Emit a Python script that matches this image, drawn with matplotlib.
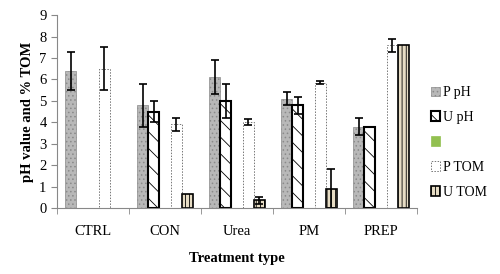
import matplotlib
matplotlib.use("Agg")
import matplotlib.pyplot as plt
import numpy as np

categories = ["CTRL", "CON", "Urea", "PM", "PREP"]
series_names = ["P pH", "U pH", "", "P TOM", "U TOM"]
nan = float("nan")
p_ph = [6.4, 4.8, 6.1, 5.1, 3.8]
p_ph_err = [0.9, 1.0, 0.8, 0.3, 0.4]
u_ph = [nan, 4.5, 5.0, 4.8, 3.8]
u_ph_err = [0.0, 0.5, 0.8, 0.4, 0.0]
green = [nan, nan, nan, nan, nan]
p_tom = [6.5, 3.9, 4.0, 5.85, 7.6]
p_tom_err = [1.0, 0.3, 0.15, 0.08, 0.3]
u_tom = [nan, 0.65, 0.35, 0.9, 7.6]
u_tom_err = [0.0, 0.0, 0.15, 0.9, 0.0]

plt.rcParams['font.family'] = ['Liberation Serif', 'DejaVu Serif']
plt.rcParams['hatch.linewidth'] = 0.6

fig = plt.figure(figsize=(5.0, 2.74), dpi=100)
ax = fig.add_axes([0.114, 0.241, 0.72, 0.704])

x = np.arange(len(categories))
w = 0.153
offs = [-2, -1, 0, 1, 2]

styles = [
    dict(color="#b8b8b8", edgecolor="#8a8a8a", hatch="....", linewidth=0.5),
    dict(color="white", edgecolor="black", hatch="\\\\", linewidth=1.5),
    dict(color="#92c050", edgecolor="#92c050", linewidth=0.5),
    dict(color="white", edgecolor="#777777", linestyle=(0, (1.5, 1.5)), linewidth=0.7),
    dict(color="#e6dcc4", edgecolor="black", hatch="||||", linewidth=1.2),
]
vals = [p_ph, u_ph, green, p_tom, u_tom]
errs = [p_ph_err, u_ph_err, None, p_tom_err, u_tom_err]

handles = []
for i in range(5):
    b = ax.bar(x + offs[i] * w, vals[i], w, label=series_names[i], **styles[i])
    handles.append(b)
    if errs[i] is not None:
        e = np.array(errs[i])
        mask = e > 0
        ax.errorbar((x + offs[i] * w)[mask], np.array(vals[i])[mask], yerr=e[mask],
                    fmt="none", ecolor="black", elinewidth=1.2, capsize=3, capthick=1.2)

ax.set_xlim(-0.5, len(categories) - 0.5)
ax.set_ylim(0, 9)
ax.set_yticks(range(0, 10))
ax.set_xticks(x)
ax.set_xticklabels(categories, fontsize=10.5)
ax.tick_params(axis="x", length=0, pad=12)
ax.set_xticks(np.arange(-0.5, len(categories)), minor=True)
ax.tick_params(axis="x", which="minor", length=4, color="#888888", direction="out")
ax.tick_params(axis="y", length=4, color="#888888", direction="out", labelsize=10.5)
for s in ["top", "right"]:
    ax.spines[s].set_visible(False)
for s in ["left", "bottom"]:
    ax.spines[s].set_color("#888888")
    ax.spines[s].set_linewidth(0.8)

ax.set_ylabel("pH value and % TOM", fontsize=10.5, fontweight="bold")
ax.set_xlabel("Treatment type", fontsize=10.5, fontweight="bold", labelpad=10)

leg = fig.legend(handles=handles, labels=series_names, loc="center left",
                 bbox_to_anchor=(0.85, 0.48), frameon=False, fontsize=10,
                 handlelength=0.7, handleheight=0.7, labelspacing=0.85,
                 handletextpad=0.2, borderaxespad=0)

fig.savefig("out.png", dpi=100, facecolor="white")
